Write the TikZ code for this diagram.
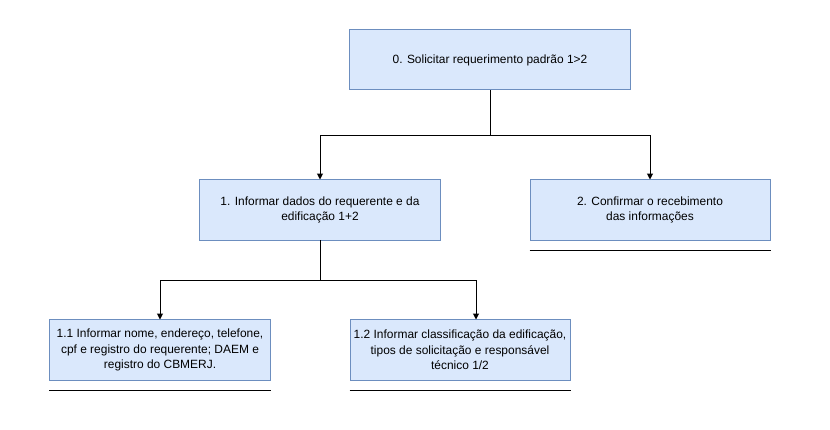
\documentclass[tikz,border=0pt]{standalone}
\usepackage{fontspec}
\setmainfont{Liberation Sans}
\usetikzlibrary{arrows.meta}
\definecolor{caixafill}{HTML}{DAE8FC}
\definecolor{caixadraw}{HTML}{6C8EBF}

\begin{document}
\begin{tikzpicture}[x=0.03cm,y=-0.03cm,
    caixa/.style={draw=caixadraw,fill=caixafill,line width=0.85pt,align=center,
      minimum height=1.8cm,inner sep=0pt,font=\fontsize{10.2}{13.4}\selectfont},
    seta/.style={line width=0.85pt,-{Triangle[length=5pt,width=5pt]}},
    traco/.style={line width=0.85pt}]
            \useasboundingbox (0,0) rectangle (830,430);
            \node[caixa,minimum width=8.4cm] (req) at (490,60) {0. Solicitar requerimento padrão 1>2};
            \node[caixa,minimum width=7.2cm] (dados) at (320,210) {1. Informar dados do requerente e da\\edificação 1+2};
            \node[caixa,minimum width=7.2cm] (confirma) at (650,210) {2. Confirmar o recebimento\\das informações};
            \node[caixa,minimum width=6.6cm] (pessoal) at (160,350) {1.1 Informar nome, endereço, telefone,\\cpf e registro do requerente; DAEM e\\registro do CBMERJ.};
            \node[caixa,minimum width=6.6cm] (classif) at (460,350) {1.2 Informar classificação da edificação,\\tipos de solicitação e responsável\\técnico 1/2};
            \draw[seta] (req.south) -- ++(0,45) -| (dados.north);
            \draw[seta] (req.south) -- ++(0,45) -| (confirma.north);
            \draw[seta] (dados.south) -- ++(0,40) -| (pessoal.north);
            \draw[seta] (dados.south) -- ++(0,40) -| ([xshift=0.48cm]classif.north);
            \draw[traco] ([yshift=-0.3cm]confirma.south west) -- ([yshift=-0.3cm]confirma.south east);
            \draw[traco] ([yshift=-0.3cm]pessoal.south west) -- ([yshift=-0.3cm]pessoal.south east);
            \draw[traco] ([yshift=-0.3cm]classif.south west) -- ([yshift=-0.3cm]classif.south east);
        \end{tikzpicture}
\end{document}
